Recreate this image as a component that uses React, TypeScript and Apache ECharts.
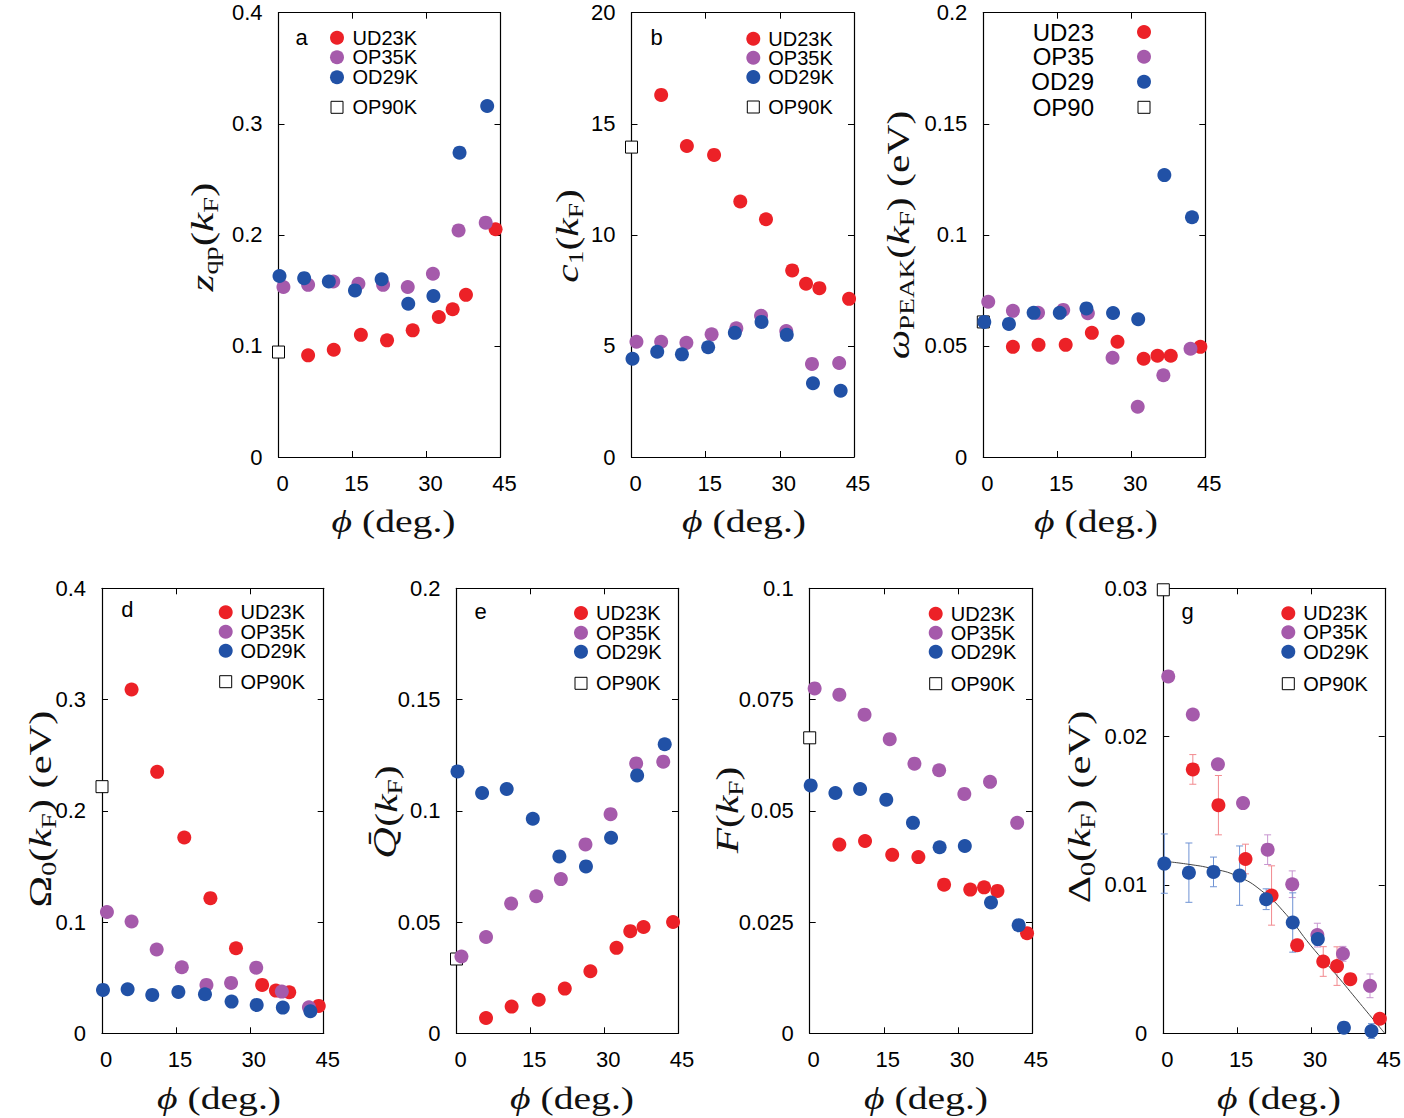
import React, { useEffect, useRef } from "react";
import * as echarts from "echarts";

// Angles along the Fermi surface (deg.) at which each sample was measured
const PHI_UD23 = [6, 11.2, 16.7, 22, 27.2, 32.5, 35.3, 38, 44];
const PHI_OP35 = [1, 6, 11.1, 16.2, 21.2, 26.2, 31.3, 36.5, 42];
const PHI_OD29 = [0.2, 5.2, 10.2, 15.5, 20.9, 26.3, 31.4, 36.7, 42.3];
const PHI_OP90 = [0];
const PHI_TICKS = [0, 15, 30, 45];

// a: quasiparticle weight z_qp(k_F)
const ZQP_TICKS = [0, 0.1, 0.2, 0.3, 0.4];
const ZQP_UD23 = [0.0915, 0.0966, 0.11, 0.105, 0.114, 0.126, 0.133, 0.146, 0.205];
const ZQP_OP35 = [0.153, 0.155, 0.158, 0.156, 0.155, 0.153, 0.165, 0.204, 0.211];
const ZQP_OD29 = [0.163, 0.161, 0.158, 0.15, 0.16, 0.138, 0.145, 0.274, 0.316];
const ZQP_OP90 = [0.0945];

// b: c_1(k_F)
const C1_TICKS = [0, 5, 10, 15, 20];
const C1_UD23 = [16.3, 14.0, 13.6, 11.5, 10.7, 8.4, 7.8, 7.6, 7.12];
const C1_OP35 = [5.19, 5.19, 5.14, 5.52, 5.79, 6.36, 5.67, 4.19, 4.23];
const C1_OD29 = [4.42, 4.74, 4.62, 4.94, 5.59, 6.08, 5.5, 3.32, 2.98];
const C1_OP90 = [13.95];

// c: peak energy omega_PEAK(k_F) (eV)
const WPEAK_TICKS = [0, 0.05, 0.1, 0.15, 0.2];
const WPEAK_UD23 = [0.0496, 0.0505, 0.0505, 0.0559, 0.0519, 0.0442, 0.0456, 0.0456, 0.0496];
const WPEAK_OP35 = [0.0699, 0.0658, 0.0649, 0.0662, 0.0647, 0.0447, 0.0226, 0.0368, 0.0487];
const WPEAK_OD29 = [0.0608, 0.0599, 0.0649, 0.0649, 0.0669, 0.0648, 0.062, 0.1269, 0.1079];
const WPEAK_OP90 = [0.0608];

// d: Omega_0(k_F) (eV)
const OMEGA_TICKS = [0, 0.1, 0.2, 0.3, 0.4];
const OMEGA_UD23 = [0.309, 0.235, 0.176, 0.1215, 0.0765, 0.0435, 0.0384, 0.0369, 0.0246];
const OMEGA_OP35 = [0.109, 0.1005, 0.0753, 0.0594, 0.0435, 0.0453, 0.059, 0.0375, 0.0234];
const OMEGA_OD29 = [0.039, 0.0396, 0.0345, 0.0372, 0.0351, 0.0285, 0.0255, 0.0231, 0.0198];
const OMEGA_OP90 = [0.2217];

// e: Q-bar(k_F)
const QBAR_TICKS = [0, 0.05, 0.1, 0.15, 0.2];
const QBAR_UD23 = [0.0069, 0.012, 0.0151, 0.0201, 0.0279, 0.0384, 0.0459, 0.0478, 0.05];
const QBAR_OP35 = [0.0345, 0.0433, 0.0583, 0.0616, 0.0693, 0.0849, 0.0985, 0.1213, 0.1221];
const QBAR_OD29 = [0.1177, 0.108, 0.1098, 0.0964, 0.0795, 0.075, 0.0879, 0.1159, 0.1299];
const QBAR_OP90 = [0.0334];

// f: F(k_F)
const F_TICKS = [0, 0.025, 0.05, 0.075, 0.1];
const F_UD23 = [0.0424, 0.0432, 0.0401, 0.0396, 0.0334, 0.0323, 0.0328, 0.032, 0.0225];
const F_OP35 = [0.0775, 0.0761, 0.0716, 0.0661, 0.0606, 0.0591, 0.0538, 0.0565, 0.0473];
const F_OD29 = [0.0557, 0.054, 0.0549, 0.0525, 0.0473, 0.0418, 0.0421, 0.0294, 0.0243];
const F_OP90 = [0.0664];

// g: gap Delta_0(k_F) (eV) with uncertainties and a d-wave-like fit
const GAP_TICKS = [0, 0.01, 0.02, 0.03];
const GAP_UD23 = [0.01779, 0.01538, 0.01175, 0.00929, 0.00594, 0.00484, 0.00453, 0.00365, 0.00098];
const GAP_UD23_ERR = [0.001, 0.002, 0.001, 0.002, 0.0004, 0.001, 0.0013, 0, 0];
const GAP_OP35 = [0.02406, 0.02149, 0.01814, 0.01552, 0.01238, 0.01005, 0.00662, 0.00536, 0.0032];
const GAP_OP35_ERR = [0, 0, 0, 0, 0.001, 0.0009, 0.0008, 0.0005, 0.0008];
const GAP_OD29 = [0.01144, 0.01083, 0.01088, 0.01063, 0.00904, 0.00747, 0.00635, 0.00038, 0.00015];
const GAP_OD29_ERR = [0.002, 0.002, 0.001, 0.002, 0.0007, 0.002, 0.0004, 0, 0.0005];
const GAP_OP90 = [0.0299];
const GAP_FIT_PHI = [0, 5, 10, 15, 20, 25, 30, 35, 40, 45];
const GAP_FIT = [0.0116, 0.0114, 0.0111, 0.0106, 0.0096, 0.008, 0.0059, 0.004, 0.002, 0];

const NAMES_K = ["UD23K", "OP35K", "OD29K", "OP90K"];
const NAMES_C = ["UD23", "OP35", "OD29", "OP90"];

const SANS = "'Liberation Sans', Arial, Helvetica, sans-serif";
const MATH = "'Liberation Serif', 'DejaVu Serif', 'Times New Roman', serif";
const RED = "#ec2127";
const PURPLE = "#a55aab";
const BLUE = "#2151a6";
const SAMPLE_COLORS = [RED, PURPLE, BLUE];
const ERR_COLORS = ["#f28a8f", "#c896d0", "#6f93d4"];

type Legend =
  | { kind: "left"; cx: number; textX: number; ys: number[]; sqY: number }
  | { kind: "right"; cx: number; textX: number; ys: number[] };

type Panel = {
  box: [number, number, number, number];
  yTicks: number[];
  series: number[][]; // UD23, OP35, OD29, OP90 values
  names: string[];
  letter?: { text: string; x: number; y: number };
  legend: Legend;
  yTitle: { text: string; x: number; y: number; scale: number };
  xTitle: { x: number; y: number };
  errors?: number[][];
  fit?: { phi: number[]; values: number[] };
};

const PANELS: Panel[] = [
  {
    box: [278.5, 12.7, 222, 444.3],
    yTicks: ZQP_TICKS,
    series: [ZQP_UD23, ZQP_OP35, ZQP_OD29, ZQP_OP90],
    names: NAMES_K,
    letter: { text: "a", x: 301.7, y: 37 },
    legend: { kind: "left", cx: 337, textX: 352.5, ys: [37.7, 57.3, 77.3], sqY: 107.3 },
    yTitle: { text: "{it|z}{sub|qp}{rm|(}{it|k}{sub|F}{rm|)}", x: 202, y: 237, scale: 1.35 },
    xTitle: { x: 393.5, y: 521 },
  },
  {
    box: [631.5, 12.7, 222.5, 444.3],
    yTicks: C1_TICKS,
    series: [C1_UD23, C1_OP35, C1_OD29, C1_OP90],
    names: NAMES_K,
    letter: { text: "b", x: 656.7, y: 37 },
    legend: { kind: "left", cx: 753.3, textX: 768.3, ys: [38.7, 57.7, 77], sqY: 107 },
    yTitle: { text: "{it|c}{sub|1}{rm|(}{it|k}{sub|F}{rm|)}", x: 567, y: 236, scale: 1.3 },
    xTitle: { x: 744, y: 521 },
  },
  {
    box: [983.3, 12.7, 222, 444.3],
    yTicks: WPEAK_TICKS,
    series: [WPEAK_UD23, WPEAK_OP35, WPEAK_OD29, WPEAK_OP90],
    names: NAMES_C,
    legend: { kind: "right", cx: 1144, textX: 1094, ys: [32, 56.7, 81.7, 107.3] },
    yTitle: { text: "{it|ω}{sub|PEAK}{rm|(}{it|k}{sub|F}{rm|) (eV)}", x: 898, y: 235, scale: 1.3 },
    xTitle: { x: 1096, y: 521 },
  },
  {
    box: [102, 588.3, 221.7, 445],
    yTicks: OMEGA_TICKS,
    series: [OMEGA_UD23, OMEGA_OP35, OMEGA_OD29, OMEGA_OP90],
    names: NAMES_K,
    letter: { text: "d", x: 127.3, y: 609.3 },
    legend: { kind: "left", cx: 225.7, textX: 240.5, ys: [612.3, 631.7, 650.7], sqY: 681.7 },
    yTitle: { text: "{rm|Ω}{sub|0}{rm|(}{it|k}{sub|F}{rm|) (eV)}", x: 40, y: 809, scale: 1.33 },
    xTitle: { x: 219, y: 1098 },
  },
  {
    box: [456.5, 588.3, 221.5, 445],
    yTicks: QBAR_TICKS,
    series: [QBAR_UD23, QBAR_OP35, QBAR_OD29, QBAR_OP90],
    names: NAMES_K,
    letter: { text: "e", x: 480.7, y: 611.3 },
    legend: { kind: "left", cx: 581, textX: 596, ys: [613, 632.7, 651.7], sqY: 683.3 },
    yTitle: { text: "{itq|Q\u0304}{rm|(}{it|k}{sub|F}{rm|)}", x: 386, y: 812, scale: 1.3 },
    xTitle: { x: 572, y: 1098 },
  },
  {
    box: [809.7, 588.3, 222.3, 445],
    yTicks: F_TICKS,
    series: [F_UD23, F_OP35, F_OD29, F_OP90],
    names: NAMES_K,
    legend: { kind: "left", cx: 935.7, textX: 950.7, ys: [613.7, 632.7, 651.7], sqY: 683.7 },
    yTitle: { text: "{it|F}{rm|(}{it|k}{sub|F}{rm|)}", x: 727, y: 810, scale: 1.3 },
    xTitle: { x: 926, y: 1098 },
  },
  {
    box: [1163.3, 588.3, 222.4, 445],
    yTicks: GAP_TICKS,
    series: [GAP_UD23, GAP_OP35, GAP_OD29, GAP_OP90],
    names: NAMES_K,
    letter: { text: "g", x: 1187.7, y: 611 },
    legend: { kind: "left", cx: 1288.3, textX: 1303.3, ys: [613.3, 632.3, 651.7], sqY: 683.7 },
    yTitle: { text: "{rm|Δ}{sub|0}{rm|(}{it|k}{sub|F}{rm|) (eV)}", x: 1079, y: 807, scale: 1.33 },
    xTitle: { x: 1279, y: 1098 },
    errors: [GAP_UD23_ERR, GAP_OP35_ERR, GAP_OD29_ERR],
    fit: { phi: GAP_FIT_PHI, values: GAP_FIT },
  },
];

const PHIS = [PHI_UD23, PHI_OP35, PHI_OD29, PHI_OP90];

const fmt = (v: number) => String(parseFloat(Number(v).toFixed(4)));

const INK = "#111";
const RICH = {
  it: { fontFamily: MATH, fontStyle: "italic", fontSize: 32, lineHeight: 38, fill: INK },
  itq: { fontFamily: "'DejaVu Serif', serif", fontStyle: "italic", fontSize: 30, lineHeight: 38, fill: INK },
  rm: { fontFamily: MATH, fontSize: 32, lineHeight: 38, fill: INK },
  sub: { fontFamily: MATH, fontSize: 21, lineHeight: 21, verticalAlign: "bottom", fill: INK },
};

function axisCommon(show: boolean) {
  return {
    type: "value",
    axisLine: { show: true, onZero: false, lineStyle: { color: "#000", width: 1.2 } },
    axisTick: { show: true, inside: true, length: 6, lineStyle: { color: "#000", width: 1 } },
    splitLine: { show: false },
    axisLabel: {
      show,
      color: "#000",
      fontFamily: SANS,
      fontSize: 22,
      formatter: fmt,
      showMinLabel: true,
      showMaxLabel: true,
    },
  };
}

function buildOption() {
  const grid: any[] = [];
  const xAxis: any[] = [];
  const yAxis: any[] = [];
  const series: any[] = [];
  const graphic: any[] = [];

  PANELS.forEach((p, i) => {
    const [left, top, width, height] = p.box;
    grid.push({ left, top, width, height, containLabel: false });

    const xMin = PHI_TICKS[0];
    const xMax = PHI_TICKS[PHI_TICKS.length - 1];
    const xInt = PHI_TICKS[1] - PHI_TICKS[0];
    const yMin = p.yTicks[0];
    const yMax = p.yTicks[p.yTicks.length - 1];
    const yInt = +((yMax - yMin) / (p.yTicks.length - 1)).toFixed(6);

    for (const pos of ["bottom", "top"]) {
      const base: any = axisCommon(pos === "bottom");
      base.axisLabel.margin = 15;
      base.axisLabel.padding = [0, 0, 0, 8];
      xAxis.push({ ...base, gridIndex: i, position: pos, min: xMin, max: xMax, interval: xInt });
    }
    for (const pos of ["left", "right"]) {
      const base: any = axisCommon(pos === "left");
      base.axisLabel.margin = 16;
      yAxis.push({ ...base, gridIndex: i, position: pos, min: yMin, max: yMax, interval: yInt });
    }

    const ax = { xAxisIndex: 2 * i, yAxisIndex: 2 * i };

    if (p.fit) {
      series.push({
        type: "line",
        ...ax,
        data: p.fit.phi.map((x, k) => [x, p.fit!.values[k]]),
        smooth: true,
        showSymbol: false,
        lineStyle: { color: "#444", width: 1 },
        z: 1,
        silent: true,
      });
    }

    if (p.errors) {
      p.errors.forEach((errs, s) => {
        const color = ERR_COLORS[s];
        const data = PHIS[s]
          .map((x, k) => [x, p.series[s][k], errs[k]])
          .filter((d) => d[2] > 0);
        series.push({
          type: "custom",
          ...ax,
          data,
          z: 1,
          silent: true,
          clip: false,
          encode: { x: 0, y: 1 },
          renderItem: (_params: any, api: any) => {
            const x = api.value(0);
            const y = api.value(1);
            const e = api.value(2);
            const hi = api.coord([x, y + e]);
            const lo = api.coord([x, y - e]);
            const cap = 3.5;
            const style = { stroke: color, lineWidth: 1 };
            return {
              type: "group",
              children: [
                { type: "line", shape: { x1: hi[0], y1: hi[1], x2: lo[0], y2: lo[1] }, style },
                { type: "line", shape: { x1: hi[0] - cap, y1: hi[1], x2: hi[0] + cap, y2: hi[1] }, style },
                { type: "line", shape: { x1: lo[0] - cap, y1: lo[1], x2: lo[0] + cap, y2: lo[1] }, style },
              ],
            };
          },
        });
      });
    }

    // OP90 reference point first, then UD23, OP35 and OD29 on top
    series.push({
      type: "scatter",
      name: p.names[3],
      ...ax,
      data: PHI_OP90.map((x, k) => [x, p.series[3][k]]),
      symbol: "rect",
      symbolSize: 12,
      clip: false,
      z: 2,
      itemStyle: { color: "#fff", borderColor: "#000", borderWidth: 1, opacity: 1 },
    });
    for (let s = 0; s < 3; s++) {
      series.push({
        type: "scatter",
        name: p.names[s],
        ...ax,
        data: PHIS[s].map((x, k) => [x, p.series[s][k]]),
        symbol: "circle",
        symbolSize: 14,
        clip: false,
        z: 2,
        itemStyle: { color: SAMPLE_COLORS[s], opacity: 1 },
      });
    }

    // legend block
    const lg = p.legend;
    if (lg.kind === "left") {
      for (let s = 0; s < 3; s++) {
        graphic.push({ type: "circle", shape: { cx: lg.cx, cy: lg.ys[s], r: 7 }, style: { fill: SAMPLE_COLORS[s] } });
        graphic.push({
          type: "text",
          x: lg.textX,
          y: lg.ys[s],
          style: { text: p.names[s], font: `20px ${SANS}`, fill: "#000", align: "left", verticalAlign: "middle" },
        });
      }
      graphic.push({
        type: "rect",
        shape: { x: lg.cx - 6, y: lg.sqY - 6, width: 12, height: 12 },
        style: { fill: "#fff", stroke: "#000", lineWidth: 1 },
      });
      graphic.push({
        type: "text",
        x: lg.textX,
        y: lg.sqY,
        style: { text: p.names[3], font: `20px ${SANS}`, fill: "#000", align: "left", verticalAlign: "middle" },
      });
    } else {
      for (let s = 0; s < 4; s++) {
        if (s < 3) {
          graphic.push({ type: "circle", shape: { cx: lg.cx, cy: lg.ys[s], r: 7 }, style: { fill: SAMPLE_COLORS[s] } });
        } else {
          graphic.push({
            type: "rect",
            shape: { x: lg.cx - 6, y: lg.ys[s] - 6, width: 12, height: 12 },
            style: { fill: "#fff", stroke: "#000", lineWidth: 1 },
          });
        }
        graphic.push({
          type: "text",
          x: lg.textX,
          y: lg.ys[s],
          style: { text: p.names[s], font: `24px ${SANS}`, fill: "#000", align: "right", verticalAlign: "middle" },
        });
      }
    }

    if (p.letter) {
      graphic.push({
        type: "text",
        x: p.letter.x,
        y: p.letter.y,
        style: { text: p.letter.text, font: `22px ${SANS}`, fill: "#000", align: "center", verticalAlign: "middle" },
      });
    }

    graphic.push({
      type: "text",
      x: p.yTitle.x,
      y: p.yTitle.y,
      rotation: Math.PI / 2,
      scaleX: p.yTitle.scale,
      style: { text: p.yTitle.text, rich: RICH, align: "center", verticalAlign: "middle" },
    });
    graphic.push({
      type: "text",
      x: p.xTitle.x,
      y: p.xTitle.y,
      scaleX: 1.24,
      style: { text: "{it|ϕ}{rm| (deg.)}", rich: RICH, align: "center", verticalAlign: "middle" },
    });
  });

  return {
    animation: false,
    backgroundColor: "#fff",
    grid,
    xAxis,
    yAxis,
    series,
    graphic: { elements: graphic },
  };
}

export default function App() {
  const ref = useRef<HTMLDivElement>(null);
  useEffect(() => {
    const chart = echarts.init(ref.current!, null, { renderer: "svg" });
    chart.setOption(buildOption() as any);
    return () => chart.dispose();
  }, []);
  return (
    <div
      ref={ref}
      style={{ position: "absolute", left: 0, top: 0, width: 1404, height: 1118, background: "#fff" }}
    />
  );
}
